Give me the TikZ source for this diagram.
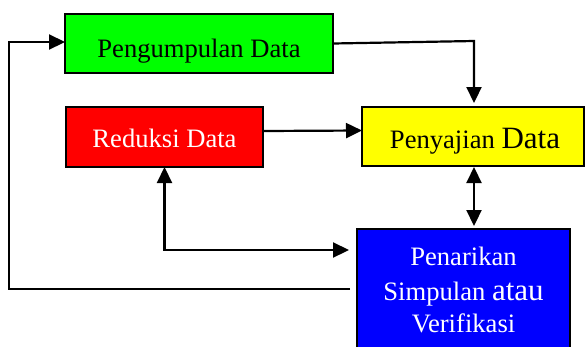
\documentclass[tikz,border=0pt]{standalone}
\usepackage{fontspec}
\setmainfont{Liberation Serif}
\usetikzlibrary{arrows.meta,calc}
\newcommand{\ts}{\fontsize{26.6}{30}\selectfont}
\newcommand{\tb}{\fontsize{31}{34}\selectfont}
\begin{document}
\begin{tikzpicture}[x=1pt,y=-1pt,
  box/.style={draw=black,line width=1.5pt,inner sep=0pt,outer sep=0pt},
  lbl/.style={anchor=base,inner sep=0pt,font=\ts},
  conn/.style={draw=black,line width=2.2pt},
  tip/.style={},
  arr/.style={conn,-{Triangle[length=16pt,width=15pt]}},
  darr/.style={conn,{Triangle[length=16pt,width=15pt]}-{Triangle[length=16pt,width=15pt]}}]
\clip (0,0) rectangle (585,346);
\fill[white] (0,0) rectangle (585,346);
% boxes
\node[box,fill={rgb,255:red,0;green,255;blue,0},minimum width=268pt,minimum height=59pt] (g) at (199,43.5) {};
\node[box,fill={rgb,255:red,255;green,0;blue,0},minimum width=197pt,minimum height=60pt] (r) at (164.5,137) {};
\node[box,fill={rgb,255:red,255;green,255;blue,0},minimum width=222pt,minimum height=59pt] (y) at (473,136.5) {};
\node[box,fill={rgb,255:red,0;green,0;blue,255},minimum width=213pt,minimum height=132pt] (b) at (463.5,295) {};
% labels
\node[lbl] (gt) at (199,57) {Pengumpulan Data};
\node[lbl,text=white] (rt) at (164.5,147) {Reduksi Data};
\node[lbl] (yt) at (475,148) {Penyajian {\tb Data}};
\node[lbl,text=white] (bt1) at (463.5,265) {Penarikan};
\node[lbl,text=white] (bt2) at (463.5,300) {Simpulan {\tb atau}};
\node[lbl,text=white] (bt3) at (463.5,332) {Verifikasi};
% connectors
\coordinate (c1) at (474,41);
\draw[arr,shorten >=4pt] (g.east) -- (c1) -- (c1 |- y.north);
\draw[arr] ([yshift=6pt]r.east) -- ([yshift=6pt]y.west);
\draw[darr,shorten <=1pt,shorten >=3pt] (y.south -| c1) -- (b.north -| c1);
\draw[darr,shorten >=8pt] (r.south) |- ([yshift=45pt]b.west);
\coordinate (fb) at (9,289);
\draw[arr] ([xshift=-7pt,yshift=6pt]b.west) -- (fb) |- ([yshift=1.5pt]g.west);
\end{tikzpicture}
\end{document}
